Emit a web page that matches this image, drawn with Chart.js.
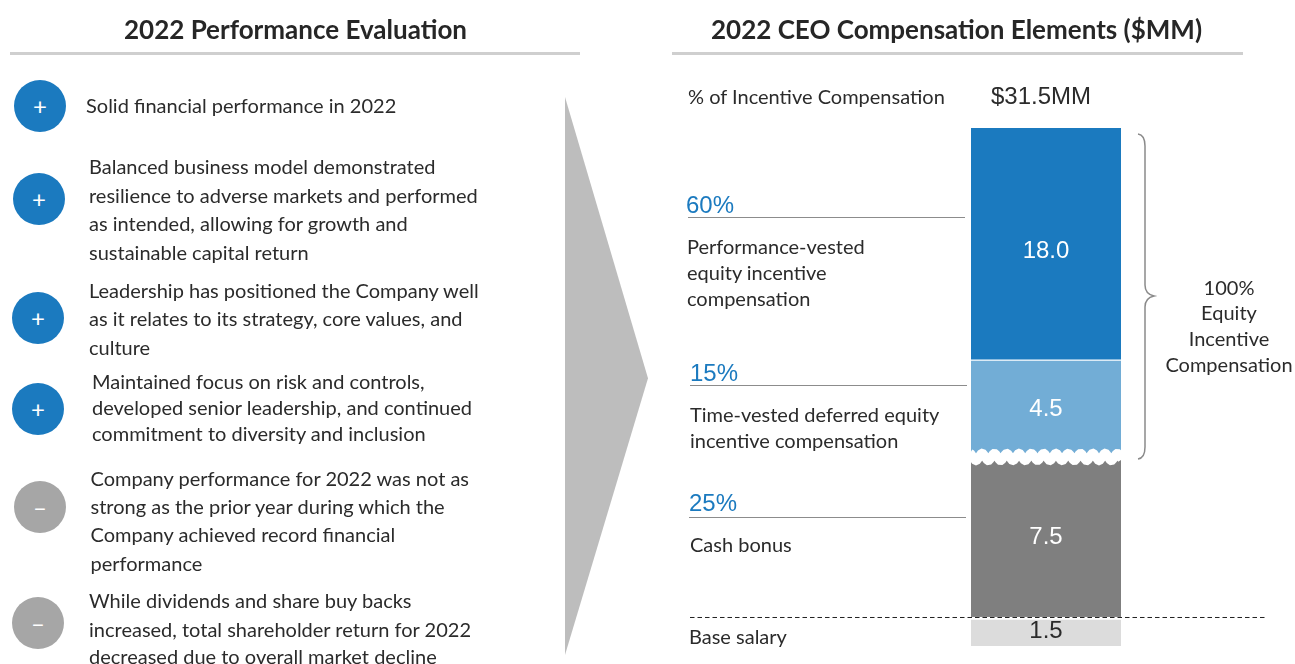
<!DOCTYPE html>
<html><head><meta charset="utf-8">
<script src="https://cdn.jsdelivr.net/npm/chart.js@4"></script>
<style>
html,body{margin:0;padding:0;background:#fff;overflow:hidden}
#wrap{position:relative;width:1295px;height:664px;overflow:hidden}
canvas{position:absolute;left:0;top:0}
.t{position:absolute;white-space:nowrap;transform:translateY(-50%);font-family:Lato,sans-serif;color:#2b2b2b;font-size:20px;line-height:1}
.h{font-size:26px;font-weight:700;color:#262626}
.c{transform:translate(-50%,-50%)}
.p{font-family:"Liberation Sans",sans-serif;font-size:24px;color:#1b7abf}
.m{font-family:"Liberation Sans",sans-serif;font-size:24px;color:#2b2b2b}
.dot{position:absolute;width:52px;height:52px;border-radius:50%;transform:translate(-50%,-50%);color:#fff;text-align:center;line-height:52px;font:400 24px/52px Lato,sans-serif}
.r{position:absolute}
</style></head><body>
<div id="wrap"><canvas id="c" width="1295" height="664"></canvas></div>
<script>
// ---- data ----
const categories = ["2022 CEO compensation"];
const elementNames = ["Base salary","Cash bonus","Time-vested deferred equity incentive compensation","Performance-vested equity incentive compensation"];
const elementValues = [1.5, 7.5, 4.5, 18.0];
const elementColors = ["#dcdcdc","#7f7f7f","#72add6","#1b7abf"];
const labelColors = ["#2b2b2b","#ffffff","#ffffff","#ffffff"];
const totalLabel = "$31.5MM";
// the reference's column is not drawn to scale: breakpoints of its axis
const axisValues = [0, 1.5, 9, 13.5, 31.5];
const axisFractions = [0, 0.056, 0.363, 0.550, 1];

const titleLeft = "2022 Performance Evaluation";
const titleRight = "2022 CEO Compensation Elements ($MM)";
const evaluation = [
 {sign:"+", lines:["Solid financial performance in 2022"]},
 {sign:"+", lines:["Balanced business model demonstrated","resilience to adverse markets and performed","as intended, allowing for growth and","sustainable capital return"]},
 {sign:"+", lines:["Leadership has positioned the Company well","as it relates to its strategy, core values, and","culture"]},
 {sign:"+", lines:["Maintained focus on risk and controls,","developed senior leadership, and continued","commitment to diversity and inclusion"]},
 {sign:"–", lines:["Company performance for 2022 was not as","strong as the prior year during which the","Company achieved record financial","performance"]},
 {sign:"–", lines:["While dividends and share buy backs","increased, total shareholder return for 2022","decreased due to overall market decline"]}
];
const percentHeader = "% of Incentive Compensation";
const percents = ["60%","15%","25%"];
const percentNotes = [["Performance-vested","equity incentive","compensation"],["Time-vested deferred equity","incentive compensation"],["Cash bonus"]];
const baseNote = "Base salary";
const braceLines = ["100%","Equity","Incentive","Compensation"];

// ---- page layout ----
const dotPos = [[40,106],[39,199],[38,318],[38,409],[40,507],[38,623]];
const textPos = [[86,[105]],[89,[166,195,223,252]],[89,[290,318,347]],[92,[381,407,433]],[90.5,[478,506,534,563]],[89,[600,629,656]]];
const pctPos = [[686,205,688,965,217],[690,373,690,967,385],[689,503,689,966,517]];
const notePos = [[687,[246,272,298]],[690,[414,440]],[690,[544]]];
const braceY = [287,312,338,364];

const wrap = document.getElementById('wrap');
function put(text,x,y,cls,extra){
  const e=document.createElement('div');
  e.className='t '+(cls||''); e.textContent=text; e.style.left=x+'px'; e.style.top=y+'px';
  if(extra) Object.assign(e.style,extra);
  wrap.appendChild(e); return e;
}
function rect(x,y,w,h,col){
  const e=document.createElement('div'); e.className='r';
  Object.assign(e.style,{left:x+'px',top:y+'px',width:w+'px',height:h+'px',background:col});
  wrap.appendChild(e);
}
put(titleLeft,124,29,'h'); put(titleRight,711,29,'h');
rect(10,52,570,3,'#cfcfcf'); rect(672,52,571,3,'#cfcfcf');
evaluation.forEach((it,i)=>{
  const d=document.createElement('div'); d.className='dot'; d.textContent=it.sign;
  d.style.left=dotPos[i][0]+'px'; d.style.top=dotPos[i][1]+'px';
  d.style.background = it.sign==='+' ? '#1b7abf' : '#a6a6a6';
  wrap.appendChild(d);
  it.lines.forEach((l,j)=>put(l,textPos[i][0],textPos[i][1][j]));
});
const tri=document.createElement('div');
Object.assign(tri.style,{position:'absolute',left:'565px',top:'97px',width:'83px',height:'558px',background:'#bdbdbd',clipPath:'polygon(0 0,100% 50.4%,0 100%)'});
wrap.appendChild(tri);
put(percentHeader,688,96);
put(totalLabel,991,96,'m');
percents.forEach((p,i)=>{
  const q=pctPos[i]; put(p,q[0],q[1],'p'); rect(q[2],q[4],q[3]-q[2],1,'#8c8c8c');
  percentNotes[i].forEach((l,j)=>put(l,notePos[i][0],notePos[i][1][j]));
});
put(baseNote,689,636);
braceLines.forEach((l,i)=>put(l,1229,braceY[i],'c'));

// ---- custom axis ----
class BrokenScale extends Chart.LinearScale {
  getPixelForValue(v){
    let i=0; while(i<axisValues.length-2 && v>axisValues[i+1]) i++;
    const t=(v-axisValues[i])/(axisValues[i+1]-axisValues[i]);
    const f=axisFractions[i]+t*(axisFractions[i+1]-axisFractions[i]);
    return this.bottom-f*(this.bottom-this.top);
  }
}
BrokenScale.id='broken';
BrokenScale.defaults=Chart.LinearScale.defaults;
Chart.register(BrokenScale);

const decorations = {
  id:'decorations',
  afterDatasetsDraw(chart){
    const ctx=chart.ctx, y=chart.scales.y, a=chart.chartArea;
    ctx.save();
    // white jagged break between the time-vested and cash bars
    const by=y.getPixelForValue(axisValues[2])-1;
    ctx.beginPath();
    for(let x=a.left-1;x<=a.right+1;x+=1){
      const w=by+3.5*Math.cos((x-a.left-5)/12.3*2*Math.PI);
      x===a.left-1?ctx.moveTo(x,w):ctx.lineTo(x,w);
    }
    ctx.strokeStyle='#fff'; ctx.lineWidth=9; ctx.stroke();
    // dashed line above base salary
    const dy=y.getPixelForValue(axisValues[1])+0.5;
    ctx.beginPath(); ctx.setLineDash([4.5,3]); ctx.moveTo(690,dy); ctx.lineTo(1265,dy);
    ctx.strokeStyle='#222'; ctx.lineWidth=1; ctx.stroke(); ctx.setLineDash([]);
    // brace
    ctx.beginPath();
    ctx.moveTo(1138,134); ctx.quadraticCurveTo(1145,135,1145,146);
    ctx.lineTo(1145,285); ctx.quadraticCurveTo(1145,294,1154,296);
    ctx.quadraticCurveTo(1145,298,1145,307);
    ctx.lineTo(1145,447); ctx.quadraticCurveTo(1145,458,1138,459);
    ctx.strokeStyle='#8a8a8a'; ctx.lineWidth=1.5; ctx.stroke();
    // value labels
    ctx.font='24px "Liberation Sans"'; ctx.textAlign='center'; ctx.textBaseline='middle';
    chart.data.datasets.forEach((ds,i)=>{
      const el=chart.getDatasetMeta(i).data[0];
      const cy=(el.y+el.base)/2 + (i===3?7:0);
      ctx.fillStyle=labelColors[i];
      ctx.fillText(ds.data[0].toFixed(1),el.x,cy);
    });
    ctx.restore();
  }
};

new Chart(document.getElementById('c'),{
  type:'bar',
  data:{labels:categories,datasets:elementValues.map((v,i)=>({
    label:elementNames[i],data:[v],backgroundColor:elementColors[i],
    borderColor:'#fff',borderSkipped:false,
    borderWidth:{top:i===0?3:0,bottom:i===3?2:0,left:0,right:0},
    barPercentage:1,categoryPercentage:1
  }))},
  options:{
    responsive:false,animation:false,
    layout:{padding:{left:971,right:174,top:128,bottom:18}},
    plugins:{legend:{display:false},tooltip:{enabled:false}},
    scales:{
      x:{stacked:true,display:false},
      y:{type:'broken',stacked:true,display:false,min:0,max:31.5}
    }
  },
  plugins:[decorations]
});
</script>
</body></html>
